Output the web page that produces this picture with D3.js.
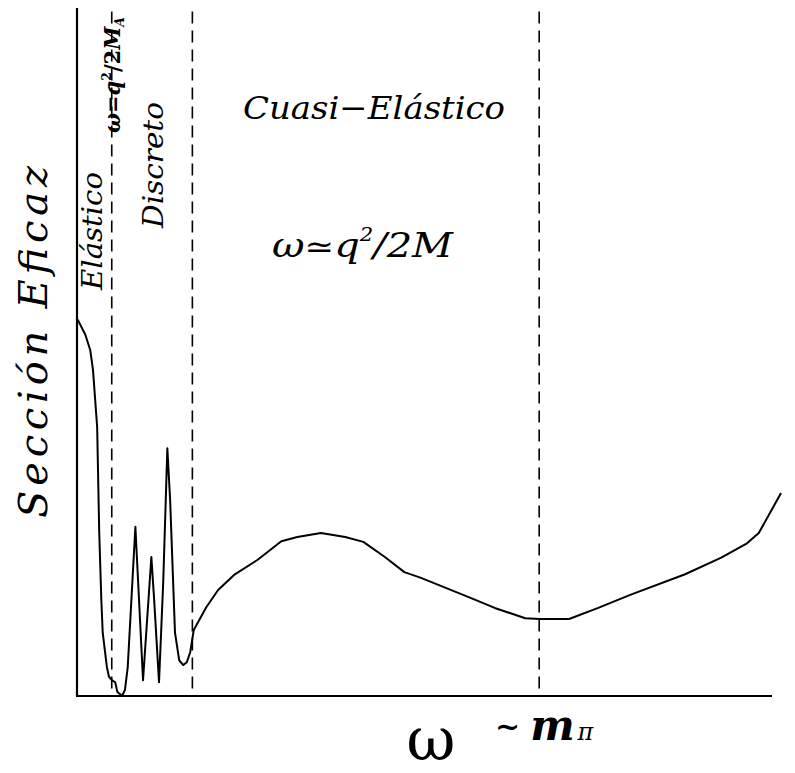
<!DOCTYPE html>
<html>
<head>
<meta charset="utf-8">
<script src="https://cdn.jsdelivr.net/npm/d3@7"></script>
<style>
  body { margin: 0; background: #fff; }
  text { font-family: "DejaVu Serif", "Liberation Serif", serif; fill: #000; }
</style>
</head>
<body>
<svg id="svg_sigma" width="795" height="773"></svg>
<script>
// energy transfer (arbitrary units) and cross section
var omega = [0.1,1.2,1.9,2.3,2.9,3.2,3.5,3.7,4.3,4.6,5.0,5.5,5.8,6.5,6.9,7.3,8.4,9.5,10.7,11.1,
             11.8,12.4,13.0,13.4,14.1,14.7,15.3,15.8,16.3,16.8,18.6,20.3,22.6,26.0,29.4,31.7,35.1,38.6,41.2,44.3,
             47.1,49.4,56.8,60.1,64.5,66.6,70.8,75.0,79.6,87.5,92.7,96.4,98.1,101.3];
var sigma = [54.7,52.5,50.3,47.4,39.1,23.7,14.0,9.2,4.2,2.8,2.3,2.0,0.6,0.0,0.9,4.2,24.6,2.3,20.2,14.0,
             2.0,16.4,36.0,28.5,9.2,5.2,4.5,4.9,6.4,9.6,12.9,15.4,17.6,19.8,22.5,23.1,23.7,23.1,22.4,20.2,
             18.0,17.2,14.2,12.8,11.3,11.2,11.2,12.8,14.7,17.7,20.1,22.2,23.7,29.5];
// region boundaries
var bounds = [5.0, 16.6, 66.5];

var svg = d3.select("#svg_sigma");

var x = d3.scaleLinear().domain([0, 100]).range([77, 772]),
    y = d3.scaleLinear().domain([0, 100]).range([696, 8]);

var data = omega.map(function(d, i) { return {w: d, s: sigma[i]}; });

// dashed boundaries
svg.selectAll(".bound")
    .data(bounds)
    .enter().append("line")
    .attr("class", "bound")
    .attr("x1", function(d) { return x(d); })
    .attr("x2", function(d) { return x(d); })
    .attr("y1", y(99.5))
    .attr("y2", y(0))
    .attr("stroke", "#000")
    .attr("stroke-width", 1.6)
    .attr("stroke-dasharray", "12,7");

// axes, plain lines without ticks
svg.append("line")
    .attr("x1", x(0)).attr("x2", x(0))
    .attr("y1", y(100)).attr("y2", y(0))
    .attr("stroke", "#000").attr("stroke-width", 2.2);
svg.append("line")
    .attr("x1", x(0) - 1).attr("x2", x(100))
    .attr("y1", y(0)).attr("y2", y(0))
    .attr("stroke", "#000").attr("stroke-width", 2.2);

var line = d3.line()
    .x(function(d) { return x(d.w); })
    .y(function(d) { return y(d.s); });

svg.append("path")
    .datum(data)
    .attr("d", line)
    .attr("fill", "none")
    .attr("stroke", "#000")
    .attr("stroke-width", 2)
    .attr("stroke-linejoin", "round");

// labels
svg.append("text")
    .attr("transform", "translate(47,342) rotate(-90)")
    .attr("text-anchor", "middle")
    .style("font-style", "italic")
    .style("font-size", "40px")
    .attr("textLength", 352)
    .attr("lengthAdjust", "spacing")
    .text("Sección  Eficaz");

svg.append("text")
    .attr("transform", "translate(102,231) rotate(-90)")
    .attr("text-anchor", "middle")
    .style("font-style", "italic")
    .style("font-size", "28px")
    .attr("textLength", 118)
    .attr("lengthAdjust", "spacingAndGlyphs")
    .text("Elástico");

var lab = svg.append("text")
    .attr("transform", "translate(120,133) rotate(-90)")
    .style("font-weight", "bold")
    .style("font-size", "22px")
    .attr("textLength", 116)
    .attr("lengthAdjust", "spacingAndGlyphs");
lab.append("tspan").style("font-style", "italic").text("ω");
lab.append("tspan").text("=");
lab.append("tspan").style("font-style", "italic").text("q");
lab.append("tspan").attr("dy", -9).style("font-size", "13px").text("2");
lab.append("tspan").attr("dy", 9).text("/2");
lab.append("tspan").style("font-style", "italic").text("M");
lab.append("tspan").attr("dy", 4).style("font-size", "13px").style("font-style", "italic").text("A");

svg.append("text")
    .attr("transform", "translate(163,165) rotate(-90)")
    .attr("text-anchor", "middle")
    .style("font-style", "italic")
    .style("font-size", "28px")
    .attr("textLength", 126)
    .attr("lengthAdjust", "spacingAndGlyphs")
    .text("Discreto");

svg.append("text")
    .attr("x", 243).attr("y", 119)
    .style("font-style", "italic")
    .style("font-size", "32px")
    .attr("textLength", 262)
    .attr("lengthAdjust", "spacingAndGlyphs")
    .text("Cuasi−Elástico");

var q = svg.append("text")
    .attr("x", 272).attr("y", 257)
    .style("font-style", "italic")
    .style("font-size", "34px")
    .attr("textLength", 181)
    .attr("lengthAdjust", "spacingAndGlyphs");
q.append("tspan").text("ω");
q.append("tspan").style("font-style", "normal").style("font-size", "30px").text("≃");
q.append("tspan").text("q");
q.append("tspan").attr("dy", -16).style("font-size", "18px").text("2");
q.append("tspan").attr("dy", 16).text("/2M");

svg.append("text")
    .attr("x", 431).attr("y", 760)
    .attr("text-anchor", "middle")
    .style("font-size", "60px")
    .text("ω");

var m = svg.append("text")
    .attr("x", 495).attr("y", 740)
    .style("font-weight", "bold");
m.append("tspan").attr("dy", -3).style("font-size", "30px").text("~");
m.append("tspan").attr("dy", 3).attr("dx", 10).style("font-style", "italic").style("font-size", "42px").text("m");
m.append("tspan").attr("dx", 3).style("font-style", "italic").style("font-size", "24px").style("font-weight", "normal").text("π");
</script>
</body>
</html>
